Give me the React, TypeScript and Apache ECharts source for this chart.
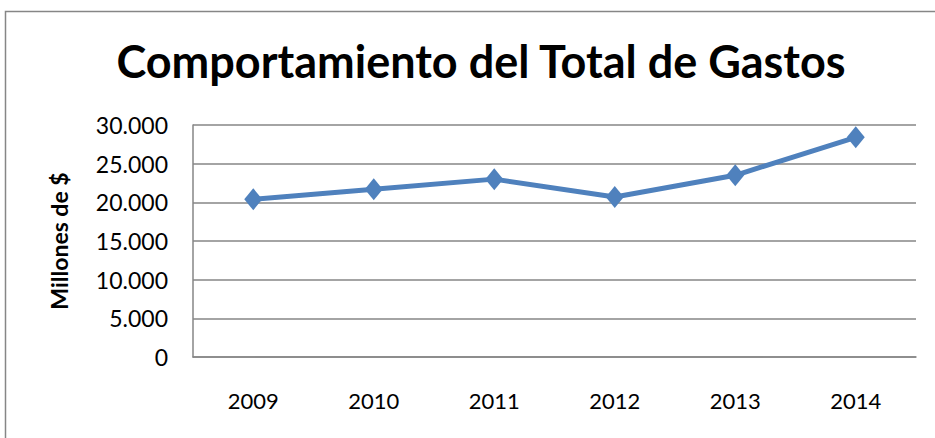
import React, { useEffect, useRef } from "react";
import * as echarts from "echarts";

const years = ["2009", "2010", "2011", "2012", "2013", "2014"];
const gastos = [20400, 21700, 23000, 20700, 23500, 28400];
const titleText = "Comportamiento del Total de Gastos";
const yAxisName = "Millones de $";

const fmt = (v: number) => {
  if (v === 0) return "0";
  const s = String(Math.round(v));
  return s.replace(/\B(?=(\d{3})+(?!\d))/g, ".");
};

export default function App() {
  const ref = useRef<HTMLDivElement>(null);
  useEffect(() => {
    const chart = echarts.init(ref.current!, undefined, { renderer: "svg" });
    chart.setOption({
      animation: false,
      backgroundColor: "#ffffff",
      title: {
        text: titleText,
        left: 476,
        textAlign: "center",
        top: 33,
        textStyle: {
          fontFamily: "Lato",
          fontWeight: "bold",
          fontSize: 45,
          color: "#000000",
        },
      },
      graphic: [
        {
          type: "rect",
          shape: { x: 5.5, y: 11.5, width: 1000, height: 1000 },
          style: { fill: "none", stroke: "#868686", lineWidth: 1.5 },
          silent: true,
          z: -1,
        },
      ],
      grid: { left: 193, right: 19, top: 125, bottom: 81, containLabel: false },
      xAxis: {
        type: "category",
        data: years,
        boundaryGap: true,
        axisLine: { lineStyle: { color: "#868686", width: 1.5 } },
        axisTick: { show: false },
        axisLabel: {
          color: "#000",
          fontFamily: "Lato",
          fontSize: 22,
          margin: 32,
        },
      },
      yAxis: {
        type: "value",
        min: 0,
        max: 30000,
        interval: 5000,
        name: yAxisName,
        nameLocation: "middle",
        nameGap: 123,
        nameTextStyle: {
          fontFamily: "Lato",
          fontWeight: "bold",
          fontSize: 23,
          color: "#000",
        },
        axisLine: { show: true, lineStyle: { color: "#868686", width: 1.5 } },
        axisTick: { show: false },
        splitLine: { lineStyle: { color: "#868686", width: 1.5 } },
        axisLabel: {
          color: "#000",
          fontFamily: "Lato",
          fontSize: 23,
          margin: 25,
          formatter: (v: number) => fmt(v),
        },
      },
      series: [
        {
          type: "line",
          data: gastos,
          symbol: "diamond",
          symbolSize: [18, 22],
          lineStyle: { color: "#4F81BD", width: 5 },
          itemStyle: { color: "#4F81BD" },
        },
      ],
    });
    return () => chart.dispose();
  }, []);
  return (
    <div
      ref={ref}
      style={{ position: "fixed", left: 0, top: 0, width: 935, height: 438 }}
    />
  );
}
